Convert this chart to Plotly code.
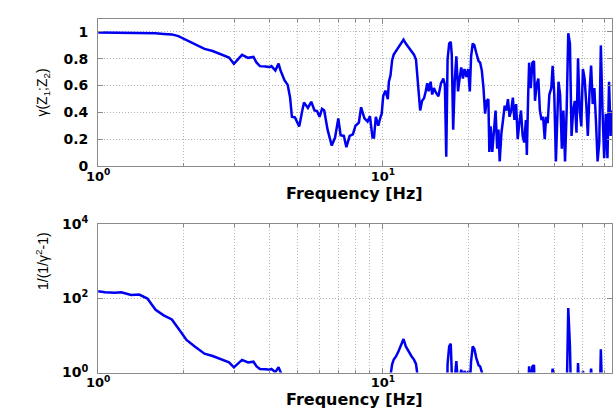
import numpy as np
import plotly.graph_objects as go

# Coherence between the two channels, read along a log frequency axis
freq_hz = [
    1.000, 1.057, 1.144, 1.206, 1.306, 1.394, 1.489, 1.591, 1.699, 1.815,
    1.913, 2.043, 2.184, 2.363, 2.524, 2.732, 2.881, 2.997, 3.20, 3.36,
    3.51, 3.60, 3.70, 3.87, 4.00, 4.06, 4.19, 4.30, 4.37, 4.51,
    4.63, 4.72, 4.79, 4.91, 5.08, 5.21, 5.28, 5.45, 5.60, 5.75,
    5.87, 5.99, 6.11, 6.22, 6.39, 6.61, 6.79, 6.97, 7.10, 7.29,
    7.44, 7.64, 7.84, 8.01, 8.23, 8.38, 8.61, 8.83, 9.00, 9.19,
    9.30, 9.44, 9.63, 9.81, 9.90, 10.02, 10.20, 10.40, 10.49, 10.63,
    10.77, 10.91, 11.11, 11.35, 11.60, 11.81, 12.03, 12.28, 12.61, 12.85,
    13.06, 13.19, 13.37, 13.51, 13.72, 13.94, 14.13, 14.31, 14.47, 14.70,
    14.89, 15.09, 15.37, 15.66, 15.98, 16.29, 16.50, 16.68, 16.86, 17.08,
    17.30, 17.44, 17.64, 17.86, 18.10, 18.35, 18.58, 18.83, 19.09, 19.33,
    19.64, 19.91, 20.18, 20.39, 20.66, 20.93, 21.27, 21.66, 21.94, 22.24,
    22.54, 22.83, 23.14, 23.45, 23.63, 23.88, 24.20, 24.51, 24.85, 25.18,
    25.44, 25.70, 26.06, 26.40, 26.75, 27.10, 27.47, 27.82, 28.20, 28.58,
    28.94, 29.34, 29.72, 30.11, 30.52, 30.93, 31.33, 31.75, 32.00, 32.33,
    32.60, 33.03, 33.47, 33.90, 34.18, 34.63, 35.12, 35.56, 36.04, 36.50,
    36.98, 37.40, 37.87, 38.39, 39.00, 39.42, 39.95, 40.48, 40.90, 41.33,
    41.88, 42.46, 43.00, 43.58, 44.15, 44.73, 45.34, 45.93, 46.53, 47.16,
    47.80, 48.40, 49.06, 49.70, 50.35, 51.05, 51.74, 52.40, 53.12, 53.80,
    54.51, 55.23, 55.99, 56.70, 57.47, 58.20, 58.99, 59.80, 60.60, 61.40,
    62.20, 63.00, 63.55,
]
coherence = [
    0.9968, 0.9966, 0.9965, 0.9966, 0.9960, 0.9961, 0.9950, 0.990, 0.986, 0.982,
    0.969, 0.940, 0.914, 0.874, 0.858, 0.827, 0.809, 0.762, 0.829, 0.807,
    0.814, 0.771, 0.745, 0.743, 0.738, 0.745, 0.712, 0.764, 0.712, 0.640,
    0.605, 0.510, 0.367, 0.362, 0.295, 0.414, 0.474, 0.433, 0.479, 0.414,
    0.409, 0.367, 0.426, 0.414, 0.271, 0.152, 0.212, 0.355, 0.229, 0.224,
    0.140, 0.224, 0.236, 0.300, 0.324, 0.438, 0.355, 0.331, 0.371, 0.212,
    0.212, 0.367, 0.300, 0.367, 0.390, 0.521, 0.562, 0.498, 0.629, 0.676,
    0.790, 0.831, 0.855, 0.890, 0.919, 0.943, 0.914, 0.890, 0.855, 0.831,
    0.795, 0.700, 0.533, 0.414, 0.486, 0.505, 0.557, 0.617, 0.557, 0.629,
    0.533, 0.581, 0.545, 0.521, 0.617, 0.652, 0.605, 0.069, 0.795, 0.914,
    0.926, 0.831, 0.271, 0.629, 0.819, 0.557, 0.652, 0.736, 0.652, 0.724,
    0.664, 0.724, 0.557, 0.819, 0.914, 0.902, 0.843, 0.783, 0.771, 0.712,
    0.581, 0.390, 0.486, 0.498, 0.105, 0.295, 0.105, 0.295, 0.414, 0.129,
    0.271, 0.034, 0.248, 0.343, 0.450, 0.414, 0.498, 0.367, 0.414, 0.510,
    0.343, 0.462, 0.200, 0.319, 0.414, 0.224, 0.176, 0.343, 0.081, 0.510,
    0.771, 0.581, 0.771, 0.783, 0.486, 0.605, 0.652, 0.414, 0.343, 0.367,
    0.200, 0.367, 0.319, 0.533, 0.581, 0.748, 0.533, 0.034, 0.367, 0.629,
    0.533, 0.129, 0.414, 0.034, 0.414, 0.991, 0.914, 0.224, 0.414, 0.486,
    0.248, 0.803, 0.414, 0.295, 0.724, 0.652, 0.462, 0.224, 0.557, 0.750,
    0.462, 0.581, 0.319, 0.034, 0.176, 0.900, 0.414, 0.057, 0.390, 0.057,
    0.629, 0.224, 0.414,
]

x_ticks = [1, 10]
x_tick_text = ["10<sup>0</sup>", "10<sup>1</sup>"]
x_minor = [2, 3, 4, 5, 6, 7, 8, 9, 20, 30, 40, 50, 60]
y1_ticks = [0, 0.2, 0.4, 0.6, 0.8, 1]
y1_tick_text = ["0", "0.2", "0.4", "0.6", "0.8", "1"]
y2_ticks = [1, 100, 10000]
y2_tick_text = ["10<sup>0</sup>", "10<sup>2</sup>", "10<sup>4</sup>"]

# Signal-to-noise ratio implied by the coherence: 1/(1/γ² - 1)
g = np.array(coherence)
snr = g ** 2 / (1 - g ** 2)

W, H = 613, 415
LINE = "#0000f0"
AXIS = "#8a8a8a"
GRID = "#b4b4b4"
DOTS = "1px,2px"
TICKFONT = dict(family="DejaVu Sans", size=14, color="black", weight="bold")

fig = go.Figure()
fig.add_trace(go.Scatter(x=freq_hz, y=coherence, mode="lines",
                         line=dict(color=LINE, width=2.5), xaxis="x", yaxis="y",
                         showlegend=False))
fig.add_trace(go.Scatter(x=freq_hz, y=snr, mode="lines",
                         line=dict(color=LINE, width=2.5), xaxis="x2", yaxis="y2",
                         showlegend=False))

x_left = 88 / W
top_dom = [1 - 163 / H, 1 - 9 / H]
bot_dom = [1 - 379 / H, 1 - 224 / H]


def freq_axis(anchor):
    return dict(
        type="log", range=[0, np.log10(63.7)], domain=[x_left, 1], anchor=anchor,
        tickmode="array", tickvals=x_ticks, ticktext=x_tick_text,
        ticks="inside", ticklen=5, tickcolor=AXIS, tickwidth=1,
        showline=True, linecolor=AXIS, linewidth=1, mirror="ticks",
        showgrid=True, gridcolor=GRID, griddash=DOTS, gridwidth=1,
        minor=dict(tickvals=x_minor, ticks="inside", ticklen=3, tickcolor=AXIS,
                   showgrid=True, gridcolor=GRID, griddash=DOTS, gridwidth=1),
        tickfont=dict(TICKFONT, size=13), ticklabelstandoff=-2,
        zeroline=False, fixedrange=True,
    )


def value_axis(anchor, dom, **kw):
    d = dict(
        domain=dom, anchor=anchor,
        ticks="inside", ticklen=5, tickcolor=AXIS,
        showline=True, linecolor=AXIS, linewidth=1, mirror="ticks",
        showgrid=True, gridcolor=GRID, griddash=DOTS,
        tickfont=TICKFONT, ticklabelstandoff=6, zeroline=False,
    )
    d.update(kw)
    return d


fig.update_layout(
    width=W, height=H,
    margin=dict(l=0, r=0, t=0, b=0),
    paper_bgcolor="white", plot_bgcolor="white",
    xaxis=freq_axis("y"),
    xaxis2=freq_axis("y2"),
    yaxis=value_axis("x", top_dom, range=[0, 1.1], tickmode="array",
                     tickvals=y1_ticks, ticktext=y1_tick_text),
    yaxis2=value_axis("x2", bot_dom, type="log", range=[0, 4], tickmode="array",
                      tickvals=y2_ticks, ticktext=y2_tick_text),
)

TITLEFONT = dict(family="DejaVu Sans", size=16, color="black", weight="bold")
YFONT = dict(family="Liberation Sans", size=14, color="black")
annotations = [
    dict(text="Frequency [Hz]", x=350 / W, y=1 - 192 / H, font=TITLEFONT),
    dict(text="Frequency [Hz]", x=350 / W, y=1 - 407 / H, font=TITLEFONT),
    dict(text="γ(Z<sub>1</sub>;Z<sub>2</sub>)", x=32 / W, y=1 - 86 / H,
         textangle=-90, font=YFONT),
    dict(text="1/(1/γ<sup>2</sup>-1)", x=30 / W, y=1 - 262 / H,
         textangle=-90, font=YFONT),
]
for a in annotations:
    a.update(xref="paper", yref="paper", showarrow=False,
             xanchor="center", yanchor="middle")
fig.update_layout(annotations=annotations)

fig.write_html("out.html")
